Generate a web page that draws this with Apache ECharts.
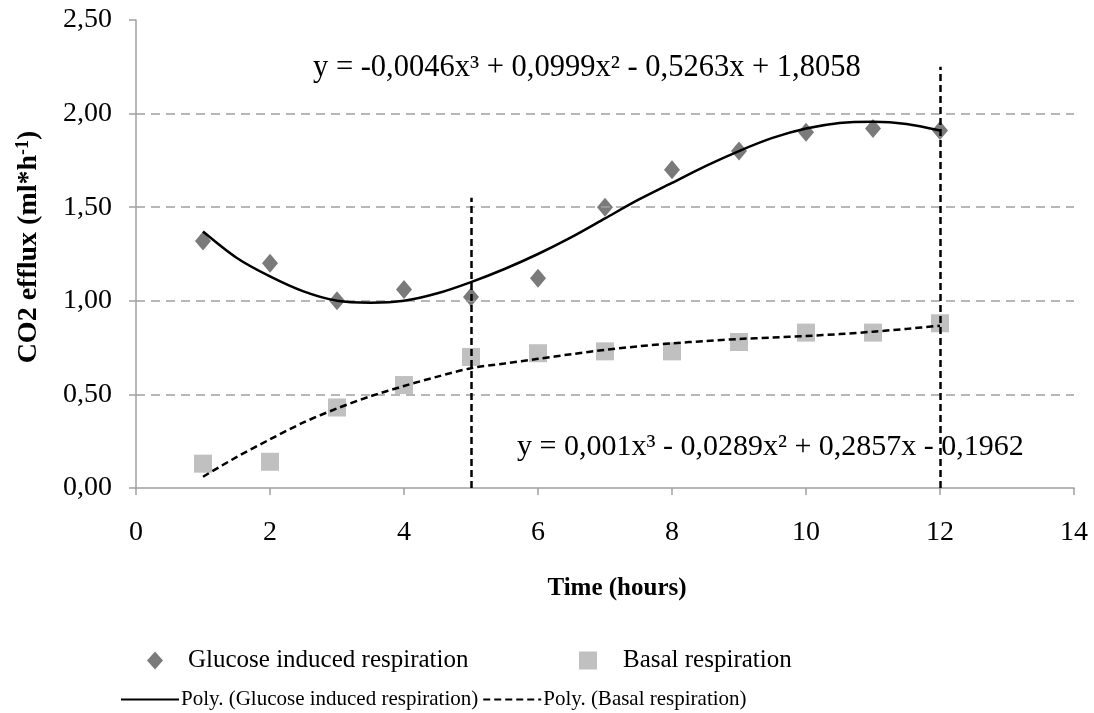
<!DOCTYPE html>
<html>
<head>
<meta charset="utf-8">
<script src="https://cdn.jsdelivr.net/npm/echarts@6/dist/echarts.min.js"></script>
<style>
html,body{margin:0;padding:0;background:#fff;}
#chart{width:1094px;height:713px;}
</style>
</head>
<body>
<div id="chart"></div>
<script>
// ---- data ----
const hours = [1, 2, 3, 4, 5, 6, 7, 8, 9, 10, 11, 12];
const glucose = [1.32, 1.20, 1.00, 1.06, 1.02, 1.12, 1.50, 1.70, 1.80, 1.90, 1.92, 1.91];
const basal = [0.13, 0.14, 0.43, 0.55, 0.70, 0.72, 0.73, 0.73, 0.78, 0.83, 0.83, 0.88];

// trend curves as drawn in the picture (read every half hour)
const trendHours = [1, 1.5, 2, 2.5, 3, 3.5, 4, 4.5, 5, 5.5, 6, 6.5, 7, 7.5, 8, 8.5, 9, 9.5, 10, 10.5, 11, 11.5, 12];
const glucoseTrend = [1.37, 1.23, 1.13, 1.05, 1.00, 0.99, 1.00, 1.04, 1.10, 1.17, 1.25, 1.34, 1.44, 1.54, 1.63, 1.72, 1.80, 1.87, 1.92, 1.95, 1.957, 1.945, 1.91];
const basalTrend = [0.06, 0.165, 0.26, 0.35, 0.425, 0.49, 0.545, 0.595, 0.64, 0.665, 0.69, 0.715, 0.738, 0.757, 0.773, 0.785, 0.796, 0.804, 0.812, 0.822, 0.835, 0.85, 0.867];

// vertical reference lines: [x, top value]
const refLines = [[5, 1.55], [12, 2.25]];
const gridValues = [0.5, 1.0, 1.5, 2.0];

const eqGlucose = 'y = -0,0046x³ + 0,0999x² - 0,5263x + 1,8058';
const eqBasal = 'y = 0,001x³ - 0,0289x² + 0,2857x - 0,1962';

const names = {
  g: 'Glucose induced respiration',
  b: 'Basal respiration',
  gp: 'Poly. (Glucose induced respiration)',
  bp: 'Poly. (Basal respiration)'
};

const FONT = '"Liberation Serif", "Times New Roman", serif';
const zip = (xs, ys) => xs.map((x, i) => [x, ys[i]]);

const chart = echarts.init(document.getElementById('chart'), null, {renderer: 'canvas'});
chart.setOption({
  animation: false,
  backgroundColor: '#ffffff',
  textStyle: {fontFamily: FONT, color: '#000'},
  grid: {left: 136, right: 20, top: 20, bottom: 225, containLabel: false},
  xAxis: {
    type: 'value', min: 0, max: 14, interval: 2,
    axisLine: {show: true, onZero: false, lineStyle: {color: '#a0a0a0', width: 1.5}},
    axisTick: {show: true, length: 7, lineStyle: {color: '#a0a0a0', width: 1.5}},
    axisLabel: {fontFamily: FONT, fontSize: 28, color: '#000', margin: 31},
    splitLine: {show: false},
    name: 'Time (hours)', nameLocation: 'middle', nameGap: 88,
    nameTextStyle: {fontFamily: FONT, fontSize: 25, fontWeight: 'bold', color: '#000', padding: [0, 0, 0, 24]}
  },
  yAxis: {
    type: 'value', min: 0, max: 2.5, interval: 0.5,
    axisLine: {show: true, lineStyle: {color: '#a0a0a0', width: 1.5}},
    axisTick: {show: true, length: 7, lineStyle: {color: '#a0a0a0', width: 1.5}},
    axisLabel: {fontFamily: FONT, fontSize: 28, color: '#000', margin: 24,
      formatter: v => v.toFixed(2).replace('.', ',')},
    splitLine: {show: false},
    name: '{a|CO2 efflux (ml*h}{s|-1}{a|)}', nameLocation: 'middle', nameGap: 92,
    nameTextStyle: {
      padding: [0, 0, 0, 14],
      rich: {
        a: {fontFamily: FONT, fontSize: 28, fontWeight: 'bold', color: '#000'},
        s: {fontFamily: FONT, fontSize: 18, fontWeight: 'bold', color: '#000', verticalAlign: 'top', padding: [0, 0, 12, 0]}
      }
    }
  },
  legend: [
    {
      data: [{name: names.g, icon: 'diamond'}],
      left: 147, top: 648, padding: 0, itemWidth: 16, itemHeight: 18, itemGap: 0,
      textStyle: {fontFamily: FONT, fontSize: 25, color: '#000', padding: [0, 0, 0, 20]}
    },
    {
      data: [{name: names.b, icon: 'rect'}],
      left: 579, top: 648, padding: 0, itemWidth: 18, itemHeight: 18, itemGap: 0,
      textStyle: {fontFamily: FONT, fontSize: 25, color: '#000', padding: [0, 0, 0, 21]}
    },
    {
      data: [names.gp, names.bp],
      left: 120, top: 689, padding: 0, itemWidth: 58, itemHeight: 14, itemGap: 4,
      itemStyle: {opacity: 0},
      textStyle: {fontFamily: FONT, fontSize: 21, color: '#000', padding: [0, 0, 0, -3]}
    }
  ],
  graphic: [
    {type: 'text', left: 313, top: 52, style: {text: eqGlucose, fontFamily: FONT, fontSize: 30.5, fill: '#000'}, z: 50},
    {type: 'text', left: 517, top: 432, style: {text: eqBasal, fontFamily: FONT, fontSize: 30, fill: '#000'}, z: 50}
  ],
  series: [
    {
      name: names.g, type: 'scatter', symbol: 'diamond', symbolSize: [16, 19],
      itemStyle: {color: '#595959'}, data: zip(hours, glucose), z: 3,
      markLine: {
        silent: true, symbol: 'none', animation: false,
        label: {show: false},
        lineStyle: {color: '#a0a0a0', type: [9, 6], width: 1.5},
        data: gridValues.map(v => ({yAxis: v}))
      }
    },
    {
      name: names.b, type: 'scatter', symbol: 'rect', symbolSize: 18,
      itemStyle: {color: '#b0b0b0'}, data: zip(hours, basal), z: 3
    },
    {
      name: names.gp, type: 'line', smooth: 0.3, showSymbol: false, symbol: 'none',
      lineStyle: {color: '#000', width: 2.5, type: 'solid'}, itemStyle: {color: '#000'},
      data: zip(trendHours, glucoseTrend), z: 5,
      markLine: {
        silent: true, symbol: 'none', animation: false,
        label: {show: false},
        lineStyle: {color: '#000', type: [7, 4], width: 2.5},
        data: refLines.map(r => [{coord: [r[0], 0]}, {coord: [r[0], r[1]]}])
      }
    },
    {
      name: names.bp, type: 'line', smooth: 0.3, showSymbol: false, symbol: 'none',
      lineStyle: {color: '#000', width: 2.5, type: [7, 4]}, itemStyle: {color: '#000'},
      data: zip(trendHours, basalTrend), z: 5
    }
  ]
});
</script>
</body>
</html>
